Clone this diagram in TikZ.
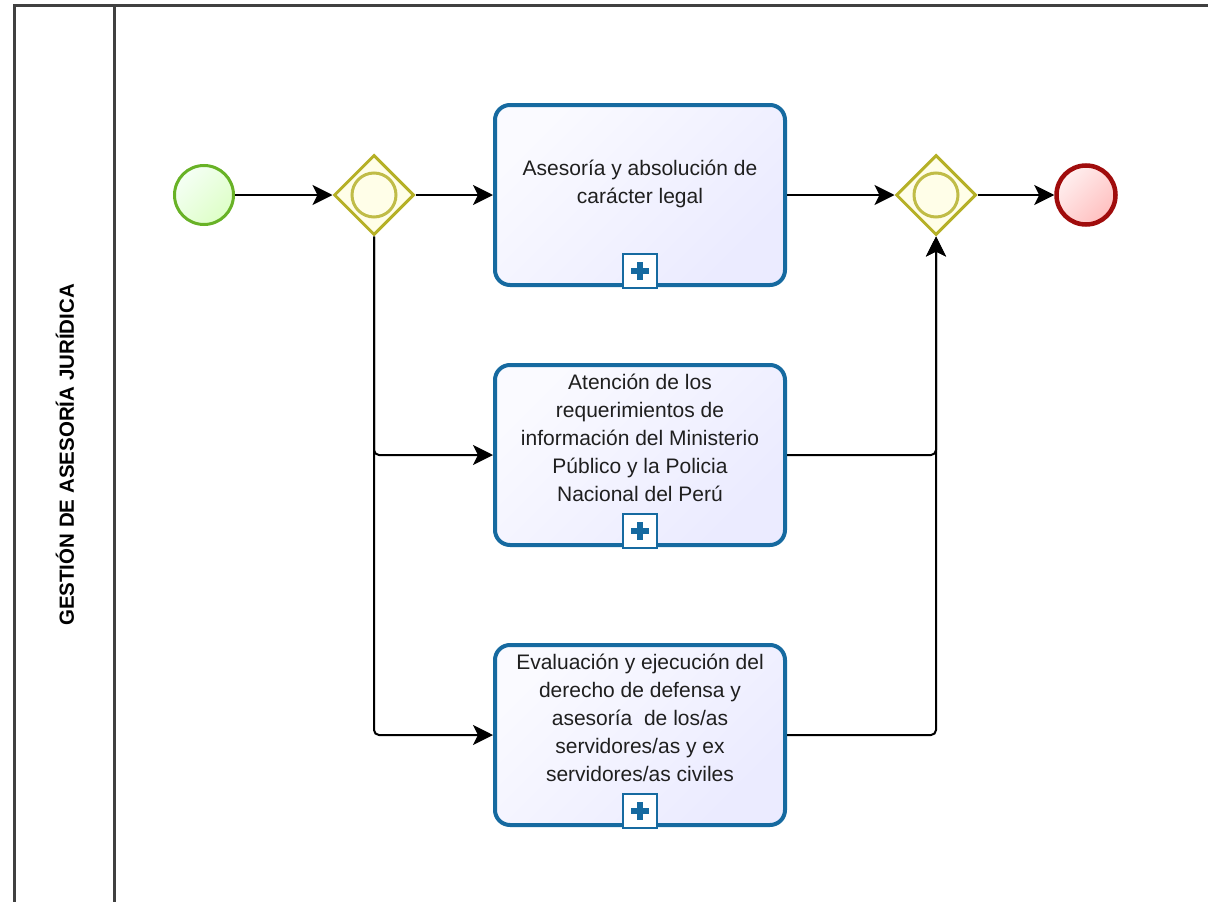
\documentclass[tikz,border=0pt]{standalone}
\usepackage{fontspec}
\setmainfont{Liberation Sans}
\usetikzlibrary{shapes.geometric,arrows.meta,positioning}

\definecolor{taskblue}{RGB}{22,106,160}
\definecolor{gwolive}{RGB}{181,176,38}
\definecolor{startgreen}{RGB}{104,178,38}
\definecolor{endred}{RGB}{160,12,12}
\definecolor{laneline}{RGB}{64,64,64}

\begin{document}
\begin{tikzpicture}[x=1pt,y=-1pt,
  flow/.style={line width=2pt,-{Stealth[length=20pt,width=20pt,inset=5pt]}},
  startev/.style={circle,inner sep=0pt,minimum size=59pt,line width=3pt,draw=startgreen,
    left color=green!4!white,right color=green!60!yellow!22!white,shading angle=45},
  endev/.style={circle,inner sep=0pt,minimum size=59pt,line width=4.5pt,draw=endred,
    left color=red!6!white,right color=red!25!white,shading angle=45},
  gateway/.style={diamond,aspect=1,inner sep=0pt,minimum size=80pt,line width=3pt,
    draw=gwolive,fill=yellow!9!white},
  ring/.style={circle,inner sep=0pt,minimum size=44pt,line width=3pt,draw=gwolive!85!white},
  task/.style={rectangle,rounded corners=15pt,minimum width=290pt,minimum height=180pt,
    line width=4pt,draw=taskblue,left color=blue!2!white,right color=blue!8!white,shading angle=45},
  tasktext/.style={align=center,font=\fontsize{21}{28}\selectfont,text=black!88},
  plusbox/.style={rectangle,inner sep=0pt,minimum size=34pt,line width=2.5pt,draw=taskblue,fill=white,
    path picture={\draw[taskblue,line width=5.5pt]
      ([xshift=-9pt]path picture bounding box.center) -- ([xshift=9pt]path picture bounding box.center)
      ([yshift=-9pt]path picture bounding box.center) -- ([yshift=9pt]path picture bounding box.center);}},
  lane/.style={line width=3pt,draw=laneline}
]
\useasboundingbox (0,0) rectangle (1208,902);

%Pool and lane
\draw[lane] (14,902) -- (14,5) -- (1208,5);
\draw[lane] (114,5) -- (114,902);
\node[rotate=90,font=\fontsize{20.5}{24}\selectfont\bfseries] (lanelabel) at (65,455)
  {GESTIÓN DE ASESORÍA JURÍDICA};

%Start
\node[startev] (start) at (204,195){};

%Split gateway
\node[gateway] (gw1) at (374,195){};
\node[ring] (gw1ring) at (gw1){};

%Task 1
\node[task] (t1) at (640,195){};
\node[tasktext] (t1text) at ([yshift=11pt]t1.center){Asesoría y absolución de\\carácter legal};
\node[plusbox,anchor=south] (t1plus) at ([yshift=-2pt]t1.south){};

%Task 2
\node[task] (t2) at (640,455){};
\node[tasktext] (t2text) at ([yshift=17pt]t2.center){Atención de los\\requerimientos de\\información del Ministerio\\Público y la Policia\\Nacional del Perú};
\node[plusbox,anchor=south] (t2plus) at ([yshift=-2pt]t2.south){};

%Task 3
\node[task] (t3) at (640,735){};
\node[tasktext] (t3text) at ([yshift=17pt]t3.center){Evaluación y ejecución del\\derecho de defensa y\\asesoría\ \ de los/as\\servidores/as y ex\\servidores/as civiles};
\node[plusbox,anchor=south] (t3plus) at ([yshift=-2pt]t3.south){};

%Join gateway
\node[gateway] (gw2) at (936,195){};
\node[ring] (gw2ring) at (gw2){};

%End
\node[endev] (end) at (1086,195){};

\draw[flow] (start.east) -- (gw1.west);
\draw[flow] (gw1.east) -- (t1.west);
\draw[flow,rounded corners=5pt] (gw1.south) |- (t2.west);
\draw[flow,rounded corners=5pt] (gw1.south) |- (t3.west);
\draw[flow] (t1.east) -- (gw2.west);
\draw[flow,rounded corners=5pt] (t2.east) -| (gw2.south);
\draw[flow,rounded corners=5pt] (t3.east) -| (gw2.south);
\draw[flow] (gw2.east) -- (end.west);

\end{tikzpicture}
\end{document}
